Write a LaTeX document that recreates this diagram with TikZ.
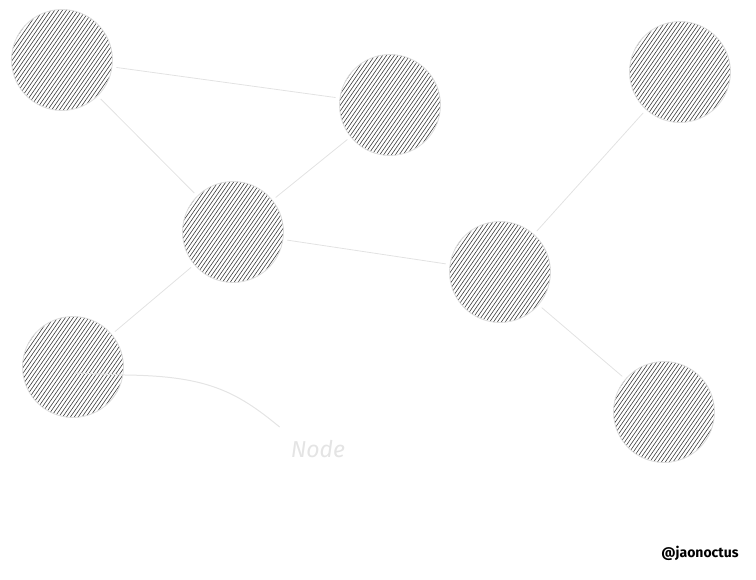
\documentclass[tikz,border=0pt]{standalone}
\usepackage{fontspec}
\setsansfont{Fira Sans}
\usetikzlibrary{calc}
\definecolor{ringgray}{HTML}{DCDCDC}
\definecolor{hatchgray}{HTML}{3C3C3C}
\definecolor{linkgray}{HTML}{E2E2E2}
\definecolor{notegray}{HTML}{E4E4E4}

\begin{document}
\begin{tikzpicture}[x=1pt,y=-1pt, every node/.style={font=\sffamily}]
\tikzset{peer/.style={circle,draw=ringgray,line width=0.8pt,minimum size=101pt,inner sep=0pt,
    path picture={\begin{scope}[shift={(path picture bounding box.center)}]
      \foreach \k in {-60,-56.8,...,60}
        \draw[hatchgray,line width=0.6pt] ($\k*(0.82,0.57)+(-34,49)$) -- ($\k*(0.82,0.57)+(34,-49)$);
    \end{scope}}},
  link/.style={draw=linkgray,line width=0.8pt,shorten <=4pt,shorten >=4pt}}
\useasboundingbox (0,0) rectangle (756,580);
% peers
\node[peer] (tl) at (62,60) {};
\node[peer] (tc) at (390,105) {};
\node[peer] (tr) at (680,72) {};
\node[peer] (mid) at (233,232) {};
\node[peer] (mr) at (500,272) {};
\node[peer] (bl) at (73,367) {};
\node[peer] (br) at (664,412) {};
% links
\draw[link] (tl) -- (tc);
\draw[link] (tl) -- (mid);
\draw[link] (tc) -- (mid);
\draw[link] (mid) -- (mr);
\draw[link] (mr) -- (tr);
\draw[link] (mr) -- (br);
\draw[link] (mid) -- (bl);
% label
\node[text=notegray,font=\sffamily\itshape\fontsize{23}{26}\selectfont,inner sep=0pt] (lbl) at (318,449) {Node};
\coordinate (tip) at ($(bl.center)+(2,6)$);
\draw[notegray,line width=1pt] (tip) -- ++(50,2) .. controls (205,376) and (235,390) .. ($(lbl.north west)+(-11,-13)$);
\node[font=\sffamily\bfseries\fontsize{14}{16}\selectfont,text=black,inner sep=0pt] (sig) at (700,553) {@jaonoctus};
\end{tikzpicture}
\end{document}
